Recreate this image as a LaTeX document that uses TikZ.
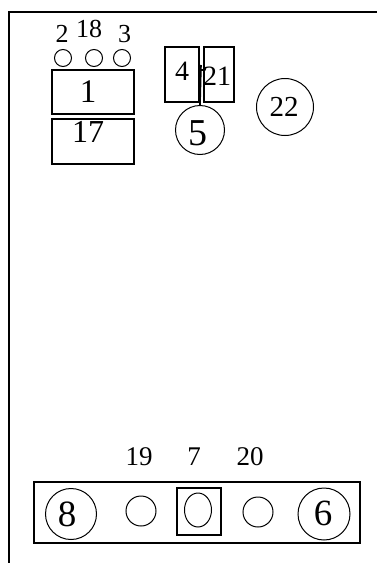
\documentclass[tikz,border=0pt]{standalone}
\usepackage{fontspec}
\setmainfont{Liberation Serif}

\begin{document}
\begin{tikzpicture}[x=1pt,y=-1pt,
  box/.style={draw, line width=1.6pt, inner sep=0pt},
  ring/.style={draw, circle, line width=1pt, inner sep=0pt},
  tag/.style={inner sep=0pt, font=\fontsize{#1}{#1}\selectfont},
  tag/.default=26]
\useasboundingbox (0,0) rectangle (377,563);
\draw[line width=2.5pt] (377,12) -- (9,12) -- (9,563);

% upper left block
\node[box, minimum width=82pt, minimum height=44pt] (b1) at (93,92) {};
\node[box, minimum width=82pt, minimum height=45pt] (b17) at (93,141.5) {};
\node[tag=33] (t1) at (88,92) {1};
\node[tag=32] (t17) at (88,132) {17};

\node[ring, minimum size=17pt] (c2) at (63,58) {};
\node[ring, minimum size=17pt] (c18) at (94,58) {};
\node[ring, minimum size=17pt] (c3) at (122,58) {};
\node[tag] (t2) at (62,34) {2};
\node[tag] (t18) at (89,29) {18};
\node[tag] (t3) at (124.5,34) {3};

% upper middle
\node[box, minimum width=34pt, minimum height=55pt] (b4) at (182,74.5) {};
\node[box, minimum width=30pt, minimum height=55pt] (b21) at (219,74.5) {};
\node[tag=28] (t4) at (182,71) {4};
\node[tag=28] (t21) at (217,76) {21};
\node[ring, minimum size=49pt] (c5) at (200,130) {};
\node[tag=38] (t5) at (198,133) {5};
\coordinate (j45) at (201,65);
\draw[line width=1.6pt] (j45) -- (c5.north);
\draw[line width=1.6pt] (b4.east |- 0,70) -- (b21.west |- 0,70);

\node[ring, minimum size=57pt] (c22) at (285,107) {};
\node[tag=29] (t22) at (284,107) {22};

% lower strip
\node[box, minimum width=326pt, minimum height=61pt] (strip) at (197,512.5) {};
\node[ring, minimum size=51pt] (c8) at (71,514) {};
\node[tag=37] (t8) at (67,514) {8};
\node[ring, minimum size=30pt] (c19) at (141,511) {};
\node[box, minimum width=44pt, minimum height=47pt] (b7) at (199,511.5) {};
\draw[line width=1pt] (198,510) ellipse (13.5 and 17);
\node[ring, minimum size=30pt] (c20) at (258,512) {};
\node[ring, minimum size=52pt] (c6) at (324,514) {};
\node[tag=37] (t6) at (323,513) {6};

\node[tag=27] (t19) at (139,457) {19};
\node[tag=27] (t7) at (194,457) {7};
\node[tag=27] (t20) at (250,457) {20};
\end{tikzpicture}
\end{document}
